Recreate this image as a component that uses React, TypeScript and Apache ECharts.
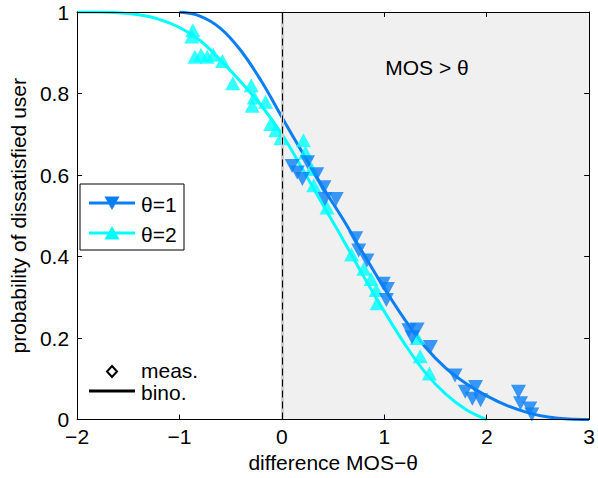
import React, { useEffect, useRef } from 'react';
import * as echarts from 'echarts';

// Fitted curves ("bino.")
const blueCurveX = [-1.0, -0.8, -0.6, -0.4, -0.2, 0, 0.2, 0.4, 0.6, 0.8, 1.0, 1.2, 1.4, 1.6, 1.8, 2.0, 2.2, 2.4, 2.6, 2.8, 3.0];
const blueCurveY = [1.0, 0.99, 0.96, 0.905, 0.83, 0.742, 0.655, 0.57, 0.49, 0.405, 0.322, 0.245, 0.178, 0.126, 0.088, 0.058, 0.034, 0.017, 0.006, 0.001, 0];
const cyanCurveX = [-2, -1.8, -1.6, -1.4, -1.2, -1.0, -0.8, -0.6, -0.4, -0.2, 0, 0.2, 0.4, 0.6, 0.8, 1.0, 1.2, 1.4, 1.6, 1.8, 2.0];
const cyanCurveY = [1.0, 1.0, 0.998, 0.993, 0.982, 0.962, 0.93, 0.882, 0.828, 0.77, 0.7, 0.615, 0.527, 0.44, 0.35, 0.265, 0.185, 0.115, 0.062, 0.024, 0];

// Measurements ("meas.")
const blueMeasX = [0.10, 0.15, 0.20, 0.25, 0.34, 0.41, 0.42, 0.53, 0.72, 0.75, 0.83, 0.99, 1.03, 1.02, 1.24, 1.32, 1.27, 1.45, 1.69, 1.79, 1.89, 1.86, 1.94, 2.31, 2.33, 2.42, 2.44];
const blueMeasY = [0.622, 0.606, 0.59, 0.631, 0.602, 0.57, 0.541, 0.541, 0.445, 0.415, 0.39, 0.333, 0.32, 0.293, 0.219, 0.221, 0.202, 0.178, 0.108, 0.068, 0.08, 0.051, 0.047, 0.068, 0.04, 0.027, 0.012];
const cyanMeasX = [-0.87, -0.88, -0.85, -0.79, -0.73, -0.67, -0.58, -0.48, -0.30, -0.27, -0.29, -0.16, -0.11, -0.06, -0.01, 0.21, 0.23, 0.29, 0.31, 0.44, 0.68, 0.80, 0.87, 0.92, 0.93, 1.32, 1.35, 1.44];
const cyanMeasY = [0.955, 0.94, 0.89, 0.895, 0.89, 0.895, 0.88, 0.825, 0.82, 0.79, 0.77, 0.78, 0.725, 0.71, 0.69, 0.685, 0.655, 0.615, 0.575, 0.52, 0.405, 0.37, 0.345, 0.318, 0.285, 0.2, 0.155, 0.113];

const xTickLabels = ['\u22122', '\u22121', '0', '1', '2', '3'];
const yTickLabels = ['0', '0.2', '0.4', '0.6', '0.8', '1'];
const legendNames = ['\u03b8=1', '\u03b8=2'];

const BLUE = '#0a7ff5';
const CYAN = '#00ffff';
const FONT = 'Liberation Sans, Arial, Helvetica, sans-serif';
const FS = 21;

const zip = (xs: number[], ys: number[]) => xs.map((x, i) => [x, ys[i]]);

export default function App() {
  const ref = useRef<HTMLDivElement>(null);
  useEffect(() => {
    if (!ref.current) return;
    const chart = echarts.init(ref.current, undefined, { renderer: 'svg' });
    const axisCommon = {
      type: 'value' as const,
      axisLine: { show: true, onZero: false, lineStyle: { color: '#000', width: 1 } },
      axisTick: { show: true, inside: true, length: 5, lineStyle: { color: '#000' } },
      splitLine: { show: false },
      z: 10,
    };
    const txt = (text: string, x: number, y: number) => ({
      type: 'text',
      x, y,
      style: { text, fill: '#000', font: `${FS}px ${FONT}`, verticalAlign: 'middle', align: 'left' },
      z: 22,
    });
    chart.setOption({
      animation: false,
      backgroundColor: '#fff',
      grid: { left: 71, right: 6, top: 12, bottom: 57 },
      xAxis: [
        {
          ...axisCommon,
          min: -2, max: 3, interval: 1,
          position: 'bottom',
          axisLabel: {
            color: '#000', fontSize: FS, fontFamily: FONT, margin: 6,
            formatter: (v: number) => xTickLabels[Math.round(v) + 2],
          },
          name: 'difference MOS\u2212\u03b8',
          nameLocation: 'middle',
          nameGap: 43,
          nameTextStyle: { color: '#000', fontSize: FS, fontFamily: FONT, verticalAlign: 'middle' },
        },
        {
          ...axisCommon,
          min: -2, max: 3, interval: 1,
          position: 'top',
          axisLabel: { show: false },
        },
      ],
      yAxis: [
        {
          ...axisCommon,
          min: 0, max: 1, interval: 0.2,
          position: 'left',
          axisLabel: {
            color: '#000', fontSize: FS, fontFamily: FONT, margin: 8,
            formatter: (v: number) => yTickLabels[Math.round(v * 5)],
          },
          name: 'probability of dissatisfied user',
          nameLocation: 'middle',
          nameGap: 58,
          nameTextStyle: { color: '#000', fontSize: FS, fontFamily: FONT, verticalAlign: 'middle' },
        },
        {
          ...axisCommon,
          min: 0, max: 1, interval: 0.2,
          position: 'right',
          axisLabel: { show: false },
        },
      ],
      series: [
        {
          type: 'line',
          data: [],
          silent: true,
          z: 1,
          markArea: {
            silent: true,
            itemStyle: { color: '#f0f0f0' },
            label: { show: false },
            data: [[{ xAxis: 0 }, { xAxis: 3 }]],
          },
          markLine: {
            silent: true,
            symbol: 'none',
            label: { show: false },
            data: [
              { xAxis: 0, lineStyle: { color: '#cccccc', width: 3, type: 'solid' } },
              { xAxis: 0, lineStyle: { color: '#000', width: 1, type: [7, 4] } },
            ],
          },
        },
        {
          name: 'bino2',
          type: 'line',
          data: zip(cyanCurveX, cyanCurveY),
          smooth: 0.4,
          symbol: 'none',
          lineStyle: { color: CYAN, width: 3 },
          z: 3,
        },
        {
          name: 'bino1',
          type: 'line',
          data: zip(blueCurveX, blueCurveY),
          smooth: 0.4,
          symbol: 'none',
          lineStyle: { color: BLUE, width: 3 },
          z: 3,
        },
        {
          name: legendNames[1],
          type: 'scatter',
          data: zip(cyanMeasX, cyanMeasY),
          symbol: 'triangle',
          symbolSize: [15, 14],
          itemStyle: { color: CYAN },
          z: 4,
        },
        {
          name: legendNames[0],
          type: 'scatter',
          data: zip(blueMeasX, blueMeasY),
          symbol: 'triangle',
          symbolRotate: 180,
          symbolSize: [15, 14],
          itemStyle: { color: BLUE },
          z: 5,
        },
      ],
      graphic: [
        {
          type: 'text',
          x: 427, y: 67,
          style: { text: 'MOS > \u03b8', fill: '#000', font: `${FS}px ${FONT}`, align: 'center', verticalAlign: 'middle' },
          z: 20,
        },
        {
          type: 'rect',
          shape: { x: 80, y: 184, width: 104, height: 66 },
          style: { fill: '#fff', stroke: '#000', lineWidth: 1 },
          z: 20,
        },
        {
          type: 'line',
          shape: { x1: 89, y1: 203, x2: 135, y2: 203 },
          style: { stroke: BLUE, lineWidth: 3 },
          z: 21,
        },
        {
          type: 'polygon',
          shape: { points: [[104.5, 196.5], [119.5, 196.5], [112, 210]] },
          style: { fill: BLUE },
          z: 22,
        },
        txt(legendNames[0], 141, 204),
        {
          type: 'line',
          shape: { x1: 89, y1: 233, x2: 135, y2: 233 },
          style: { stroke: CYAN, lineWidth: 3 },
          z: 21,
        },
        {
          type: 'polygon',
          shape: { points: [[104.5, 239.5], [119.5, 239.5], [112, 226]] },
          style: { fill: CYAN },
          z: 22,
        },
        txt(legendNames[1], 141, 234),
        {
          type: 'polygon',
          shape: { points: [[112, 366], [117, 371.5], [112, 377], [107, 371.5]] },
          style: { fill: '#fff', stroke: '#000', lineWidth: 2 },
          z: 22,
        },
        txt('meas.', 141, 370),
        {
          type: 'line',
          shape: { x1: 89, y1: 391, x2: 135, y2: 391 },
          style: { stroke: '#000', lineWidth: 3 },
          z: 22,
        },
        txt('bino.', 141, 392),
      ],
    });
    return () => chart.dispose();
  }, []);
  return (
    <div
      ref={ref}
      style={{ position: 'fixed', left: 0, top: 0, width: 598, height: 478, background: '#fff' }}
    />
  );
}
